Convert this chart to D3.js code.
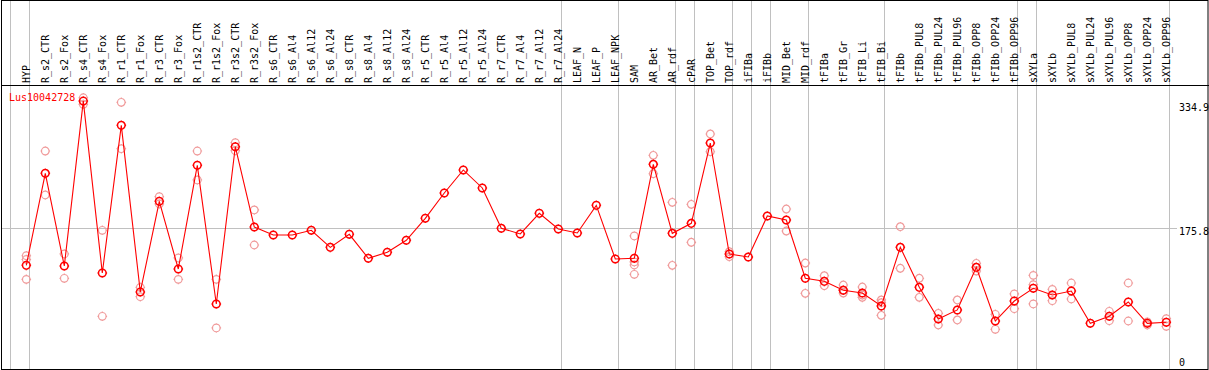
<!DOCTYPE html>
<html lang="en">
<head>
  <meta charset="UTF-8">
  <title>Lus10042728</title>
  <style>
    body {
      margin: 0;
      background: #fff;
    }
    svg text {
      font-family: "DejaVu Sans Mono", monospace;
      font-size: 10px;
    }
  </style>
</head>
<body>
  <svg id="chart"></svg>

  <script src="https://d3js.org/d3.v7.min.js"></script>
  <script>
    const width = 1209, height = 370;

    const samples = [
      "HYP", "R_s2_CTR", "R_s2_Fox", "R_s4_CTR", "R_s4_Fox", "R_r1_CTR", "R_r1_Fox",
      "R_r3_CTR", "R_r3_Fox", "R_r1s2_CTR", "R_r1s2_Fox", "R_r3s2_CTR", "R_r3s2_Fox",
      "R_s6_CTR", "R_s6_Al4", "R_s6_Al12", "R_s6_Al24", "R_s8_CTR", "R_s8_Al4", "R_s8_Al12", "R_s8_Al24",
      "R_r5_CTR", "R_r5_Al4", "R_r5_Al12", "R_r5_Al24", "R_r7_CTR", "R_r7_Al4", "R_r7_Al12", "R_r7_Al24",
      "LEAF_N", "LEAF_P", "LEAF_NPK", "SAM", "AR_Bet", "AR_rdf", "cPAR", "TOP_Bet", "TOP_rdf",
      "iFIBa", "iFIBb", "MID_Bet", "MID_rdf", "tFIBa", "tFIB_Gr", "tFIB_Li", "tFIB_Bi",
      "tFIBb", "tFIBb_PUL8", "tFIBb_PUL24", "tFIBb_PUL96", "tFIBb_OPP8", "tFIBb_OPP24", "tFIBb_OPP96",
      "sXYLa", "sXYLb", "sXYLb_PUL8", "sXYLb_PUL24", "sXYLb_PUL96", "sXYLb_OPP8", "sXYLb_OPP24", "sXYLb_OPP96"
    ];

    // mean expression per sample
    const means = [
      129.6, 244.6, 128.8, 334.9, 120.0, 304.6, 96.3, 209.6, 125.0, 254.6, 81.3, 277.9, 177.5,
      167.5, 167.5, 173.4, 152.1, 168.4, 138.4, 145.9, 160.9,
      188.4, 220.0, 248.8, 226.3, 175.9, 168.8, 194.6, 175.0,
      170.0, 204.6, 137.5, 138.4, 255.9, 169.6, 182.1, 282.5, 143.8,
      140.0, 191.3, 186.3, 113.4, 109.6, 98.4, 95.0, 78.8,
      152.1, 102.1, 62.5, 73.8, 127.1, 60.0, 85.0,
      100.9, 92.5, 97.5, 57.1, 65.9, 83.8, 57.1, 58.4
    ];

    // replicate values per sample (empty where none are shown)
    const replicates = [
      [141.6, 136.9, 112.1], [272.5, 217.5], [143.8, 113.4], [339.1, 330.9], [173.4, 65.9],
      [333.4, 275.4], [102.1, 90.4], [215.4, 206.3], [138.8, 112.1], [272.5, 236.3],
      [112.1, 51.3], [282.9, 272.9], [198.8, 155.0],
      [], [], [], [], [], [], [], [],
      [], [], [], [], [], [], [], [],
      [], [], [],
      [166.3, 133.8, 130.0, 118.4], [267.1, 244.1], [208.4, 129.6], [205.9, 158.4],
      [293.8, 271.6], [146.6, 140.4], [], [], [200.0, 172.5], [132.5, 94.6],
      [116.6, 104.1], [105.0, 98.8, 95.0], [102.5, 92.5, 89.6], [86.3, 82.9, 67.1],
      [177.9, 125.9], [113.4, 89.6], [69.6, 55.0], [86.3, 61.3], [132.1, 122.5],
      [68.4, 49.6], [93.8, 75.4],
      [117.1, 105.4, 81.3], [99.6, 85.4], [107.5, 87.5], [], [72.1, 60.4],
      [107.5, 60.0], [58.8, 55.0], [62.9, 53.4]
    ];

    // last sample of each group (gray separator after it)
    const groupEnds = ["HYP", "R_r7_Al24", "LEAF_NPK", "AR_rdf", "cPAR", "TOP_rdf", "iFIBa",
      "iFIBb", "MID_rdf", "tFIB_Bi", "tFIBb_OPP96", "sXYLa", "sXYLb_OPP96"];

    const yTicks = [0, 175.8, 334.9];
    const geneId = "Lus10042728";

    const svg = d3.select("#chart").attr("width", width).attr("height", height);

    const x = d3.scaleBand().domain(samples).range([11, 11 + samples.length * 19]);
    const y = d3.scaleLinear().domain([0, 334.9]).range([369, 101.1]);
    const px = d => x(d) + 15.3;

    // grid
    svg.append("line")
      .attr("x1", 1).attr("x2", 1177)
      .attr("y1", Math.round(y(175.8)) + 0.5).attr("y2", Math.round(y(175.8)) + 0.5)
      .attr("stroke", "#c0c0c0");

    const seps = [x(samples[0]) - 0.5].concat(groupEnds.map(d => x(d) + x.bandwidth() - 0.5));
    svg.selectAll("line.sep")
      .data(seps)
      .enter()
      .append("line")
      .attr("class", "sep")
      .attr("x1", d => d).attr("x2", d => d)
      .attr("y1", 0).attr("y2", height)
      .attr("stroke", "#c0c0c0");

    // frame and header line
    svg.append("rect")
      .attr("x", 1.5).attr("y", 0.5)
      .attr("width", width - 2.5).attr("height", 369)
      .attr("fill", "none").attr("stroke", "#000");
    svg.append("line")
      .attr("x1", 1).attr("x2", width)
      .attr("y1", 85.5).attr("y2", 85.5)
      .attr("stroke", "#000");

    // sample labels
    svg.selectAll("text.sample")
      .data(samples)
      .enter()
      .append("text")
      .attr("class", "sample")
      .attr("transform", d => `translate(${x(d) + 18.5},83) rotate(-90)`)
      .attr("fill", "#000")
      .text(d => d);

    // value labels on the right
    svg.selectAll("text.tick")
      .data(yTicks)
      .enter()
      .append("text")
      .attr("class", "tick")
      .attr("x", 1179)
      .attr("y", d => Math.max(111, Math.min(366, y(d) + 7)))
      .attr("fill", "#000")
      .text(d => d);

    svg.append("text")
      .attr("x", 9).attr("y", 101)
      .attr("fill", "red")
      .text(geneId);

    // marker: circle with short ticks
    function marker(cx, cy) {
      const r = 3.8, t = 1;
      return `M${cx + r},${cy}A${r},${r} 0 1,1 ${cx - r},${cy}A${r},${r} 0 1,1 ${cx + r},${cy}` +
        `M${cx},${cy - r}v${-t}M${cx},${cy + r}v${t}M${cx - r},${cy}h${-t}M${cx + r},${cy}h${t}`;
    }

    const reps = [];
    replicates.forEach((vals, i) => vals.forEach(v => reps.push({ s: samples[i], v })));

    svg.selectAll("path.rep")
      .data(reps)
      .enter()
      .append("path")
      .attr("class", "rep")
      .attr("d", d => marker(px(d.s), y(d.v)))
      .attr("fill", "none")
      .attr("stroke", "#f09a9a")
      .attr("stroke-width", 1.2);

    const pts = samples.map((s, i) => ({ s, v: means[i] }));

    svg.append("path")
      .datum(pts)
      .attr("d", d3.line().x(d => px(d.s)).y(d => y(d.v)))
      .attr("fill", "none")
      .attr("stroke", "red")
      .attr("stroke-width", 1.1);

    svg.selectAll("path.mean")
      .data(pts)
      .enter()
      .append("path")
      .attr("class", "mean")
      .attr("d", d => marker(px(d.s), y(d.v)))
      .attr("fill", "none")
      .attr("stroke", "red")
      .attr("stroke-width", 1.5);
  </script>
</body>
</html>
